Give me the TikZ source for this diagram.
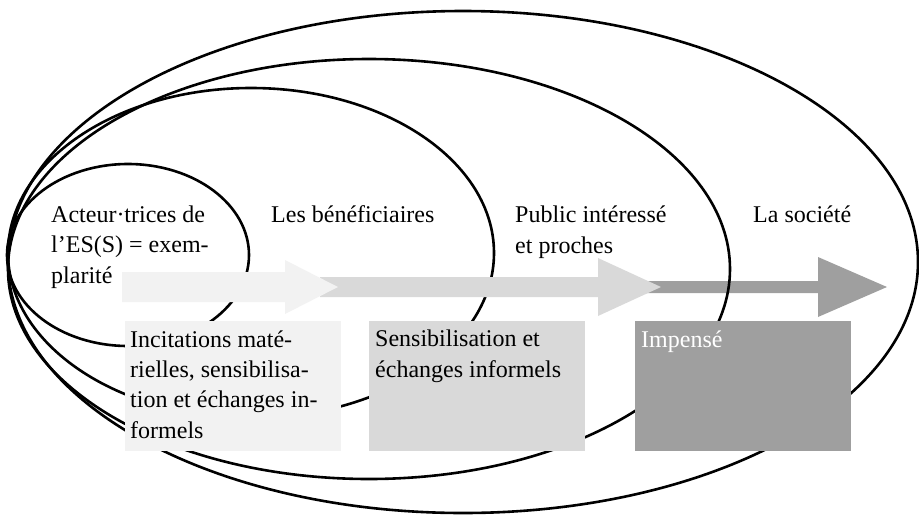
\documentclass[tikz,border=0pt]{standalone}
\usepackage{fontspec}
\setmainfont{Liberation Serif}
\usepackage{tikz}
\usetikzlibrary{positioning}
\definecolor{palegrey}{HTML}{F2F2F2}
\definecolor{softgrey}{HTML}{D9D9D9}
\definecolor{deepgrey}{HTML}{9F9F9F}

\begin{document}
\begin{tikzpicture}[
    x=1pt, y=-1pt,
    ring/.style={draw=black, line width=2.6pt},
    ringtext/.style={anchor=base west, inner sep=0pt, align=left,
                    font=\fontsize{24}{30.5}\selectfont},
    box/.style={anchor=north west, minimum width=216pt, minimum height=130pt,
               inner sep=0pt},
    boxtext/.style={anchor=base west, inner sep=0pt, align=left,
                   font=\fontsize{24}{30.3}\selectfont}
]
\useasboundingbox (0,0) rectangle (919,515);

% Arrow towards the society (under the rings)
\fill[deepgrey] (640,281) -- (818,281) -- (818,257) -- (887,287) -- (818,317) -- (818,293) -- (640,293) -- cycle;

% Rings
\draw[ring] (463,262) ellipse [x radius=455pt, y radius=251pt];
\draw[ring] (369,269) ellipse [x radius=361pt, y radius=210pt];
\draw[ring] (251,253) ellipse [x radius=243pt, y radius=165pt];
\draw[ring] (128,255) ellipse [x radius=121pt, y radius=91pt];

% Arrows
\fill[softgrey] (320,277) -- (598,277) -- (598,258) -- (661,287) -- (598,316) -- (598,297) -- (320,297) -- cycle;
\fill[palegrey] (122,272) -- (285,272) -- (285,260) -- (338,287) -- (285,314) -- (285,302) -- (122,302) -- cycle;

% Ring labels (anchored on their last line)
\node[ringtext] (actors) at (51,283) {Acteur·trices de\\l’ES(S) = exem-\\plarité};
\node[ringtext] (beneficiaries) at (271,222) {Les bénéficiaires};
\node[ringtext] (public) at (515,253) {Public intéressé\\et proches};
\node[ringtext] (society) at (753,222) {La société};

% Boxes
\node[box, fill=palegrey] (material) at (125,321) {};
\node[box, fill=softgrey] (informal) at (369,321) {};
\node[box, fill=deepgrey] (unthought) at (635,321) {};

\node[boxtext] (material-text) at (130,438) {Incitations maté-\\rielles, sensibilisa-\\tion et échanges in-\\formels};
\node[boxtext] (informal-text) at (375,377) {Sensibilisation et\\échanges informels};
\node[boxtext, text=white] (unthought-text) at (641,347) {Impensé};

\end{tikzpicture}
\end{document}
